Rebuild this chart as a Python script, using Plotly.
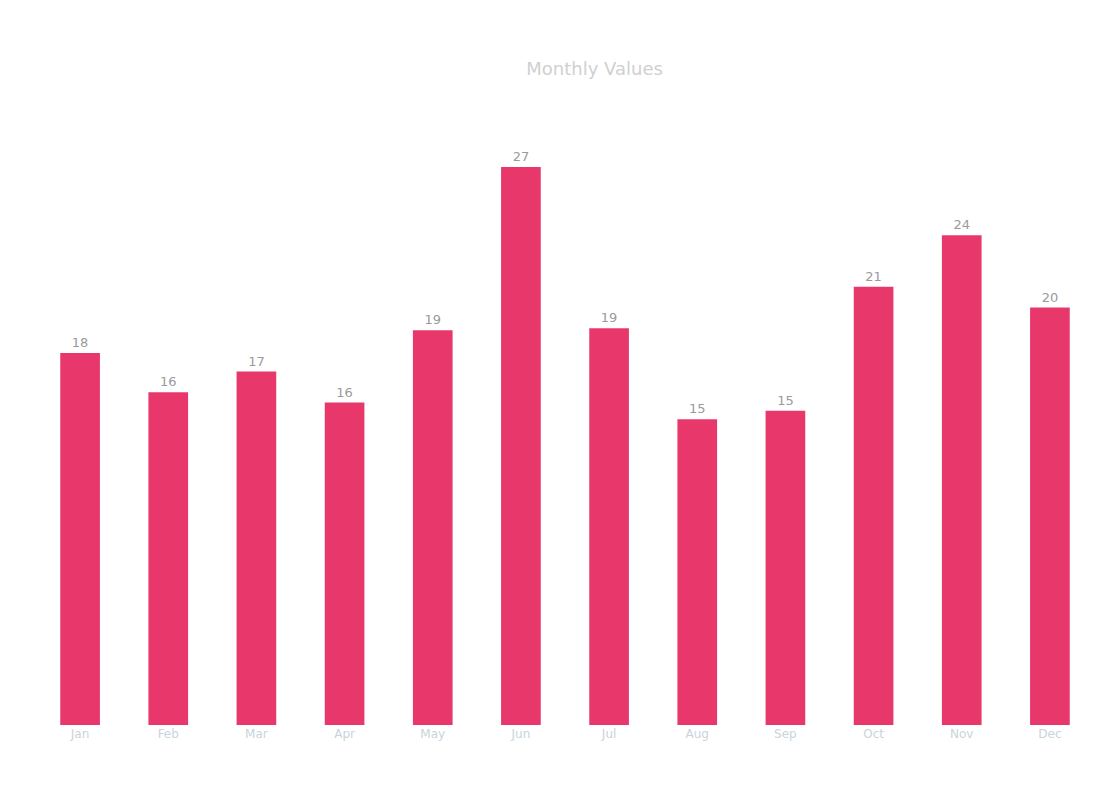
import plotly.graph_objects as go

months = ["Jan", "Feb", "Mar", "Apr", "May", "Jun",
          "Jul", "Aug", "Sep", "Oct", "Nov", "Dec"]
values = [18.0, 16.1, 17.1, 15.6, 19.1, 27.0, 19.2, 14.8, 15.2, 21.2, 23.7, 20.2]

bar_color = "#e8386b"
faint = "#b8b8b8"

fig = go.Figure(
    go.Bar(
        x=months,
        y=values,
        marker=dict(color=bar_color, line=dict(width=0)),
        text=values,
        texttemplate="%{y:.0f}",
        textposition="outside",
        textfont=dict(color="#9a9a9a", size=13, family="DejaVu Sans"),
        cliponaxis=False,
    )
)

fig.update_layout(
    width=1113,
    height=799,
    paper_bgcolor="white",
    plot_bgcolor="white",
    margin=dict(l=28, r=27, t=97, b=82),
    bargap=0.55,
    showlegend=False,
    title=dict(
        text="Monthly Values",
        x=0.527,
        y=0.932,
        xanchor="center",
        font=dict(size=18, color="#d0d0d0", family="DejaVu Sans"),
    ),
    font=dict(family="DejaVu Sans", color=faint),
)

fig.update_xaxes(
    showgrid=False,
    showline=False,
    ticks="",
    tickfont=dict(size=12, color="#c8d4dc"),
)
fig.update_yaxes(
    range=[0, 30],
    visible=False,
    showgrid=False,
)

fig.write_html("out.html")
